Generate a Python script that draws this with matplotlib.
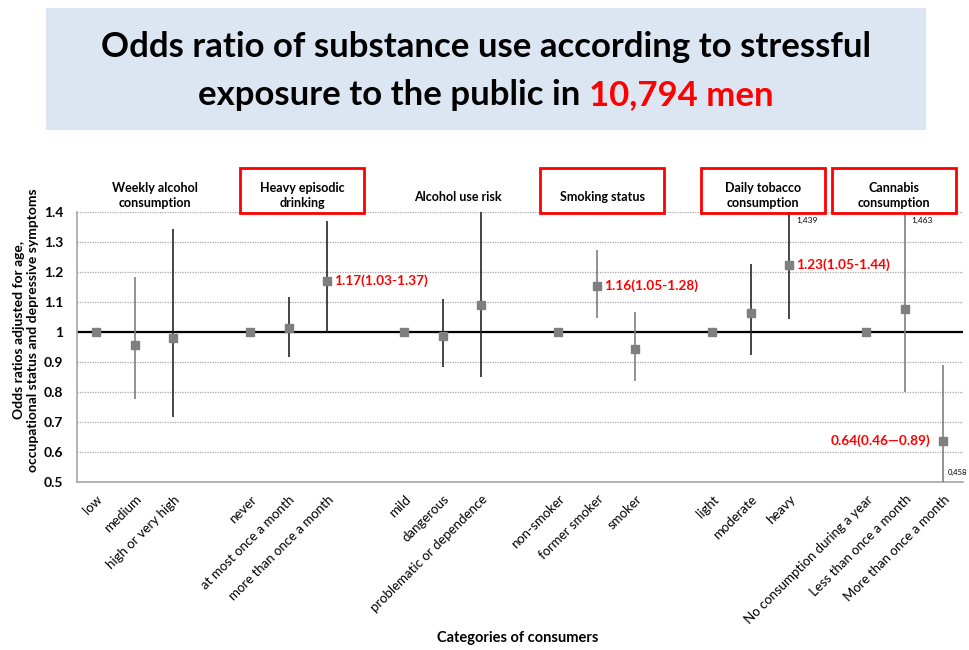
import matplotlib
matplotlib.use("Agg")
import matplotlib.pyplot as plt
from matplotlib.patches import Rectangle
import numpy as np

plt.rcParams['font.family'] = ['Lato', 'DejaVu Sans']

groups = ["Weekly alcohol\nconsumption", "Heavy episodic\ndrinking", "Alcohol use risk",
          "Smoking status", "Daily tobacco\nconsumption", "Cannabis\nconsumption"]
group_boxed = [False, True, False, True, True, True]

categories = [
    ["low", "medium", "high or very high"],
    ["never", "at most once a month", "more than once a month"],
    ["mild", "dangerous", "problematic or dependence"],
    ["non-smoker", "former smoker", "smoker"],
    ["light", "moderate", "heavy"],
    ["No consumption during a year", "Less than once a month", "More than once a month"],
]
odds = [
    [1.0, 0.957, 0.979],
    [1.0, 1.014, 1.17],
    [1.0, 0.987, 1.09],
    [1.0, 1.155, 0.944],
    [1.0, 1.062, 1.224],
    [1.0, 1.078, 0.637],
]
lower = [
    [np.nan, 0.778, 0.718],
    [np.nan, 0.918, 1.0],
    [np.nan, 0.884, 0.851],
    [np.nan, 1.047, 0.837],
    [np.nan, 0.922, 1.043],
    [np.nan, 0.80, 0.458],
]
upper = [
    [np.nan, 1.183, 1.342],
    [np.nan, 1.117, 1.37],
    [np.nan, 1.109, 1.40],
    [np.nan, 1.273, 1.068],
    [np.nan, 1.227, 1.439],
    [np.nan, 1.463, 0.89],
]
whisker_dark = [
    [True, False, True],
    [True, True, True],
    [True, True, True],
    [True, False, False],
    [True, True, True],
    [True, False, False],
]
annotations = {(1, 2): "1.17(1.03-1.37)", (3, 1): "1.16(1.05-1.28)",
               (4, 2): "1.23(1.05-1.44)", (5, 2): "0.64(0.46\u20140.89)"}
small_labels = {(4, 2): "1,439", (5, 1): "1,463", (5, 2): "0,458"}

yticks = [0.5, 0.6, 0.7, 0.8, 0.9, 1.0, 1.1, 1.2, 1.3, 1.4]
ytick_labels = ["0.5", "0.6", "0.7", "0.8", "0.9", "1", "1.1", "1.2", "1.3", "1.4"]

W, H = 969, 650
fig = plt.figure(figsize=(W / 100, H / 100), dpi=100)

# Title box
fig.patches.append(Rectangle((46 / W, 1 - 130 / H), 880 / W, 122 / H, transform=fig.transFigure,
                             facecolor="#dce6f2", edgecolor="none", zorder=0))
title_fs = 25
fig.text(486 / W, 1 - 47 / H, "Odds ratio of substance use according to stressful",
         ha="center", va="center", fontsize=title_fs, fontweight="bold", color="black")
# two-color second line
fig.canvas.draw()
r = fig.canvas.get_renderer()
ta = fig.text(0, 1 - 95 / H, "exposure to the public in ", ha="left", va="center",
              fontsize=title_fs, fontweight="bold", color="black")
tb = fig.text(0, 1 - 95 / H, "10,794 men", ha="left", va="center",
              fontsize=title_fs, fontweight="bold", color="#ff0000")
wa = ta.get_window_extent(r).width
wb = tb.get_window_extent(r).width
x0 = 486 - (wa + wb) / 2
ta.set_x(x0 / W)
tb.set_x((x0 + wa) / W)

ax = fig.add_axes([77 / W, 1 - 482 / H, (962.5 - 77) / W, (482 - 212) / H])
ax.set_xlim(-0.5, 22.5)
ax.set_ylim(0.5, 1.4)

positions = []
labels = []
for g in range(len(groups)):
    for i in range(3):
        positions.append(g * 4 + i)
        labels.append(categories[g][i])

ax.set_yticks(yticks)
ax.set_yticklabels(ytick_labels, fontsize=10, fontweight="bold")
ax.tick_params(axis="y", length=0, pad=10)
ax.yaxis.grid(True, linestyle=(0, (1, 1)), color="#a6a6a6", linewidth=0.9)
ax.set_axisbelow(True)
for s in ["top", "right"]:
    ax.spines[s].set_visible(False)
ax.spines["left"].set_color("#a6a6a6")
ax.spines["bottom"].set_color("#a6a6a6")
ax.spines["left"].set_linewidth(1.2)
ax.spines["bottom"].set_linewidth(1.2)

ax.axhline(1.0, color="black", linewidth=1.6, zorder=2)

ax.set_xticks(positions)
ax.set_xticklabels(labels, rotation=45, ha="right", va="top", rotation_mode="anchor",
                   fontsize=9.5)
ax.tick_params(axis="x", length=0, pad=8)

for g in range(len(groups)):
    for i in range(3):
        x = g * 4 + i
        lo, hi = lower[g][i], upper[g][i]
        if not np.isnan(lo):
            c = "#262626" if whisker_dark[g][i] else "#7f7f7f"
            ax.vlines(x, lo, hi, color=c, linewidth=1.2, zorder=3)
        ax.plot(x, odds[g][i], marker="s", markersize=6, color="#7f7f7f",
                markeredgecolor="#7f7f7f", zorder=4, clip_on=False)

for (g, i), txt in annotations.items():
    x = g * 4 + i
    y = odds[g][i]
    if (g, i) == (5, 2):
        ax.annotate(txt, (x, y), xytext=(-9, 0), textcoords="offset points",
                    ha="right", va="center", color="#ff0000", fontsize=9.8, fontweight="bold")
    else:
        ax.annotate(txt, (x, y), xytext=(5, 0), textcoords="offset points",
                    ha="left", va="center", color="#ff0000", fontsize=9.8, fontweight="bold")

for (g, i), txt in small_labels.items():
    x = g * 4 + i
    if upper[g][i] > 1.4:
        ax.annotate(txt, (x, 1.4), xytext=(5, -6), textcoords="offset points",
                    ha="left", va="center", fontsize=6, annotation_clip=False)
    else:
        ax.annotate(txt, (x, 0.5), xytext=(3, 7), textcoords="offset points",
                    ha="left", va="center", fontsize=5.5, annotation_clip=False)

# group headers
header_x = [155, 302, 458, 602, 763, 894]
for g, name in enumerate(groups):
    cx = header_x[g]
    lines = name.count("\n") + 1
    cy = 195 if lines == 2 else 197
    fig.text(cx / W, 1 - cy / H, name, ha="center", va="center", fontsize=9,
             fontweight="bold", linespacing=1.3)
    if group_boxed[g]:
        fig.patches.append(Rectangle(((cx - 62) / W, 1 - 213 / H), 124 / W, 45 / H,
                                     transform=fig.transFigure, facecolor="none",
                                     edgecolor="#ff0000", linewidth=2, zorder=5))

fig.text(26 / W, 1 - 330 / H,
         "Odds ratios adjusted for age,\noccupational status and depressive symptoms",
         rotation=90, ha="center", va="center", fontsize=10, fontweight="bold",
         linespacing=1.2)
fig.text(518 / W, 1 - 638 / H, "Categories of consumers", ha="center", va="center",
         fontsize=10.5, fontweight="bold")

fig.savefig("out.png", dpi=100)
